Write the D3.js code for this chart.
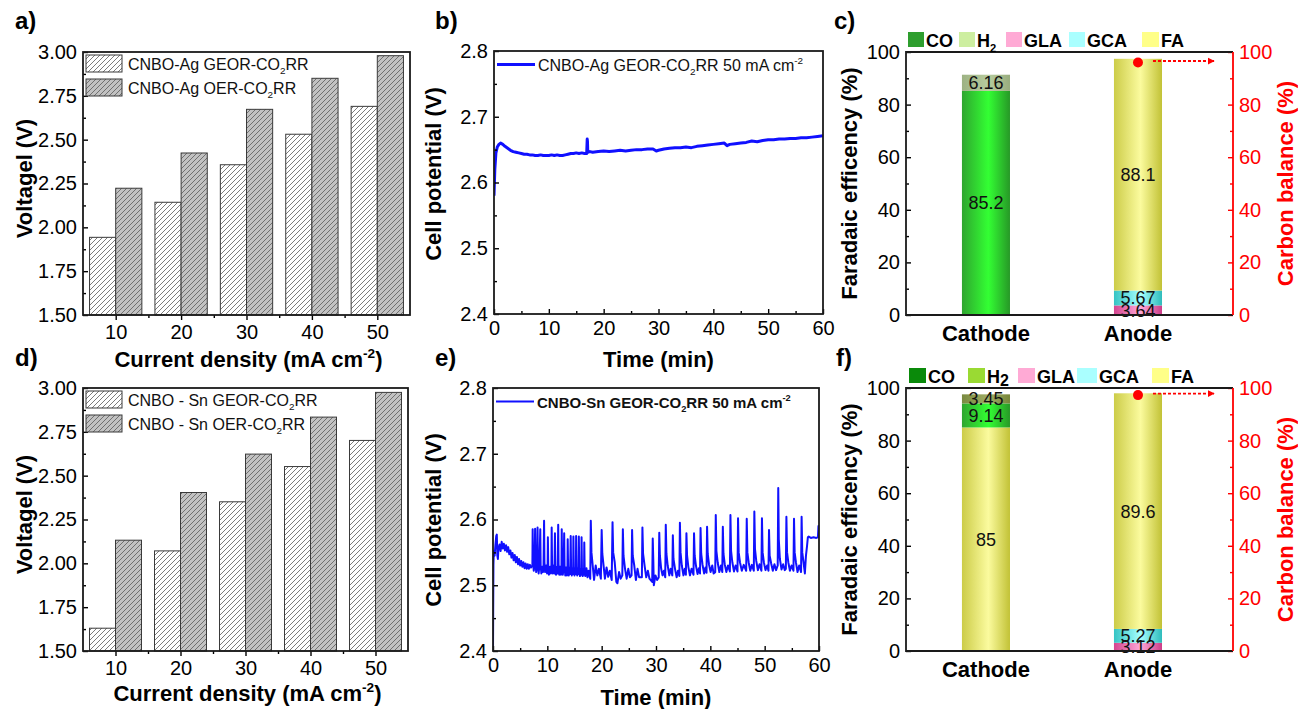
<!DOCTYPE html>
<html>
<head>
<meta charset="utf-8">
<script src="https://cdn.jsdelivr.net/npm/d3@7"></script>
<style>
  html, body { margin: 0; padding: 0; background: #fff; }
  svg { display: block; font-family: "Liberation Sans", Arial, Helvetica, sans-serif; }
</style>
</head>
<body>
<svg id="fig" width="1298" height="709"></svg>
<script>
// ---------- data ----------
const currentDensity = [10, 20, 30, 40, 50];
const agGeorVoltage = [1.943, 2.143, 2.357, 2.531, 2.690];
const agOerVoltage  = [2.223, 2.424, 2.673, 2.850, 2.979];
const snGeorVoltage = [1.630, 2.071, 2.351, 2.552, 2.701];
const snOerVoltage  = [2.132, 2.404, 2.623, 2.834, 2.975];

const voltTicks = [1.50, 1.75, 2.00, 2.25, 2.50, 2.75, 3.00];
const voltMinor = [1.625, 1.875, 2.125, 2.375, 2.625, 2.875];
const currentMinor = [15, 25, 35, 45];

const timeTicks = [0, 10, 20, 30, 40, 50, 60];
const timeMinor = [5, 15, 25, 35, 45, 55];
const cellTicks = [2.4, 2.5, 2.6, 2.7, 2.8];
const cellMinor = [2.45, 2.55, 2.65, 2.75];

// CNBO-Ag chronopotentiometry at 50 mA cm-2: [time (min), cell potential (V)]
const agTrace = [
  [0,2.580],[0.15,2.620],[0.35,2.645],[0.6,2.654],[0.9,2.658],[1.2,2.660],[1.6,2.658],[2.0,2.655],
  [2.5,2.652],[3.0,2.649],[3.5,2.647],[4.0,2.646],[4.5,2.645],[5.0,2.644],[5.5,2.643],[6.0,2.643],
  [6.5,2.642],[7.0,2.642],[7.5,2.641],[8.0,2.641],[8.5,2.642],[9.0,2.641],[9.5,2.641],[10,2.641],
  [10.5,2.642],[11,2.641],[11.5,2.642],[12,2.641],[12.5,2.641],[13,2.642],[13.5,2.643],[14,2.644],
  [14.5,2.644],[15,2.645],[15.5,2.644],[16,2.645],[16.5,2.644],[16.9,2.644],[17.0,2.666],[17.05,2.662],
  [17.1,2.646],[17.5,2.647],[18,2.646],[19,2.647],[20,2.648],[21,2.647],[22,2.648],[23,2.649],
  [24,2.648],[25,2.649],[26,2.650],[27,2.650],[28,2.651],[29,2.651],[29.6,2.648],[30,2.649],
  [31,2.651],[32,2.652],[33,2.653],[34,2.653],[35,2.654],[36,2.653],[37,2.655],[38,2.656],
  [39,2.657],[40,2.658],[41,2.659],[42,2.660],[42.5,2.656],[43,2.658],[44,2.659],[45,2.660],
  [46,2.661],[47,2.663],[48,2.662],[49,2.664],[50,2.665],[51,2.665],[52,2.666],[53,2.666],
  [54,2.667],[55,2.667],[56,2.668],[57,2.668],[58,2.669],[59,2.670],[60,2.671]
];

// CNBO-Sn chronopotentiometry at 50 mA cm-2: [time (min), cell potential (V)]
const snTrace = [
  [0,2.400],[0.04,2.470],[0.08,2.530],[0.15,2.552],[0.3,2.545],[0.45,2.562],[0.6,2.575],[0.7,2.577],
  [0.8,2.545],[0.9,2.540],[1.0,2.556],[1.2,2.562],[1.4,2.552],[1.6,2.566],[1.8,2.556],[2.0,2.563],
  [2.2,2.553],[2.4,2.561],[2.6,2.551],[2.8,2.558],[3.0,2.547],[3.2,2.553],[3.4,2.542],[3.6,2.549],
  [3.8,2.538],[4.0,2.546],[4.2,2.535],[4.4,2.543],[4.6,2.532],[4.8,2.540],[5.0,2.530],[5.2,2.537],
  [5.4,2.528],[5.6,2.535],[5.8,2.526],[6.0,2.533],[6.2,2.525],[6.4,2.532],[6.6,2.525],[6.8,2.531],
  [7.0,2.527],[7.25,2.530],
  [7.3,2.585],[7.37,2.535],[7.5,2.522],[7.65,2.532],
  [7.75,2.586],[7.82,2.535],[7.95,2.520],[8.1,2.530],
  [8.2,2.588],[8.27,2.532],[8.4,2.518],[8.55,2.530],
  [8.7,2.585],[8.77,2.530],[8.9,2.518],[9.05,2.528],[9.2,2.520],[9.3,2.528],
  [9.4,2.598],[9.47,2.535],[9.6,2.520],[9.8,2.530],[9.95,2.518],[10.05,2.527],
  [10.1,2.573],[10.17,2.530],[10.3,2.516],[10.5,2.528],[10.65,2.518],[10.75,2.527],
  [10.8,2.588],[10.87,2.532],[11.0,2.518],[11.15,2.530],[11.3,2.518],
  [11.4,2.579],[11.47,2.530],[11.6,2.516],[11.75,2.528],[11.9,2.518],
  [12.0,2.592],[12.07,2.532],[12.2,2.516],[12.35,2.528],[12.5,2.516],[12.6,2.526],
  [12.65,2.585],[12.72,2.530],[12.85,2.516],[13.0,2.526],
  [13.1,2.579],[13.17,2.530],[13.3,2.515],[13.45,2.527],[13.6,2.515],[13.7,2.525],
  [13.75,2.570],[13.82,2.528],[13.95,2.515],[14.1,2.527],[14.2,2.517],
  [14.3,2.575],[14.37,2.528],[14.5,2.515],[14.65,2.526],[14.75,2.517],
  [14.8,2.574],[14.87,2.528],[15.0,2.515],[15.15,2.526],[15.25,2.517],
  [15.3,2.575],[15.37,2.528],[15.5,2.515],[15.65,2.526],[15.75,2.517],
  [15.8,2.574],[15.87,2.527],[16.0,2.514],[16.15,2.525],[16.25,2.516],
  [16.3,2.573],[16.37,2.527],[16.5,2.514],[16.65,2.525],[16.75,2.516],
  [16.8,2.565],[16.87,2.525],[17.0,2.514],[17.2,2.526],[17.4,2.512],[17.6,2.522],[17.9,2.510],
  [18.0,2.598],[18.12,2.550],[18.35,2.530],[18.6,2.508],[18.9,2.530],[19.2,2.515],[19.5,2.525],[19.85,2.510],
  [20.0,2.584],[20.12,2.548],[20.35,2.530],[20.6,2.510],[20.9,2.527],[21.2,2.513],[21.5,2.522],[21.85,2.508],
  [22.0,2.596],[22.12,2.550],[22.4,2.535],[22.7,2.505],[22.9,2.503],[23.2,2.520],[23.5,2.510],[23.8,2.515],
  [23.9,2.585],[24.02,2.545],[24.3,2.525],[24.6,2.510],[24.9,2.525],[25.2,2.512],[25.5,2.515],
  [25.6,2.584],[25.72,2.545],[26.0,2.530],[26.3,2.508],[26.6,2.525],[26.9,2.512],[27.4,2.512],
  [27.5,2.588],[27.62,2.548],[27.9,2.530],[28.2,2.512],[28.5,2.522],[28.8,2.510],[29.3,2.505],
  [29.4,2.571],[29.5,2.540],[29.6,2.500],[29.9,2.515],[30.2,2.508],[30.5,2.512],
  [30.6,2.580],[30.72,2.545],[30.95,2.525],[31.2,2.515],[31.45,2.522],[31.7,2.512],
  [31.8,2.592],[31.92,2.548],[32.15,2.530],[32.45,2.515],[32.7,2.525],[33.0,2.515],
  [33.1,2.576],[33.22,2.540],[33.5,2.525],[33.8,2.512],[34.05,2.522],[34.3,2.514],
  [34.4,2.595],[34.52,2.550],[34.75,2.530],[35.05,2.515],[35.3,2.525],[35.5,2.516],
  [35.6,2.579],[35.72,2.545],[35.95,2.528],[36.25,2.515],[36.55,2.525],[36.9,2.516],
  [37.0,2.579],[37.12,2.545],[37.35,2.530],[37.65,2.517],[37.9,2.526],[38.1,2.518],
  [38.2,2.587],[38.32,2.548],[38.55,2.532],[38.85,2.518],[39.1,2.527],[39.3,2.519],
  [39.4,2.589],[39.52,2.548],[39.75,2.532],[40.05,2.520],[40.35,2.530],[40.6,2.518],[40.9,2.520],
  [41.0,2.607],[41.12,2.552],[41.35,2.535],[41.65,2.520],[41.95,2.530],[42.2,2.520],
  [42.3,2.589],[42.42,2.548],[42.65,2.532],[42.95,2.520],[43.25,2.530],[43.6,2.521],
  [43.7,2.607],[43.82,2.552],[44.05,2.535],[44.35,2.521],[44.65,2.530],[45.0,2.521],
  [45.1,2.602],[45.22,2.550],[45.45,2.535],[45.8,2.522],[46.15,2.531],[46.6,2.522],
  [46.7,2.601],[46.82,2.550],[47.05,2.535],[47.35,2.522],[47.65,2.531],[48.0,2.522],
  [48.1,2.612],[48.22,2.555],[48.45,2.537],[48.75,2.523],[49.05,2.532],[49.4,2.522],
  [49.5,2.602],[49.62,2.550],[49.85,2.535],[50.15,2.523],[50.45,2.530],[50.7,2.522],
  [50.8,2.584],[50.92,2.545],[51.2,2.533],[51.5,2.522],[51.8,2.532],[52.1,2.523],[52.4,2.530],
  [52.5,2.648],[52.6,2.570],[52.8,2.540],[53.1,2.524],[53.4,2.532],[53.7,2.523],[53.9,2.525],
  [54.0,2.604],[54.12,2.550],[54.35,2.535],[54.65,2.522],[54.95,2.530],[55.3,2.522],
  [55.4,2.601],[55.52,2.550],[55.75,2.535],[56.05,2.520],[56.35,2.530],[56.7,2.520],
  [56.8,2.604],[56.92,2.550],[57.15,2.535],[57.4,2.518],[57.6,2.545],[57.8,2.560],
  [57.95,2.573],[58.1,2.574],[58.5,2.572],[59.0,2.573],[59.5,2.572],[59.8,2.573],[59.9,2.590],[60.0,2.585]
];

// Faradaic efficiency stacks (bottom to top), [product, FE %]
const electrodes = ["Cathode", "Anode"];
const agCathodeFE = [["CO", 85.2], ["H2", 6.16]];
const agAnodeFE   = [["GLA", 3.64], ["GCA", 5.67], ["FA", 88.1]];
const snCathodeFE = [["FA", 85], ["CO", 9.14], ["H2", 3.45]];
const snAnodeFE   = [["GLA", 3.12], ["GCA", 5.27], ["FA", 89.6]];
const feTicks = [0, 20, 40, 60, 80, 100];
const feMinor = [10, 30, 50, 70, 90];
const agCarbonBalance = 96.0;
const snCarbonBalance = 97.3;
const products = ["CO", "H2", "GLA", "GCA", "FA"];

// ---------- setup ----------
const FONT = '"Liberation Sans", Arial, Helvetica, sans-serif';
const TICK_FS = 20, TITLE_FS = 22;
const svg = d3.select("#fig");
const defs = svg.append("defs");

function hatch(id, bg) {
  const p = defs.append("pattern").attr("id", id)
    .attr("patternUnits", "userSpaceOnUse").attr("width", 5).attr("height", 5);
  p.append("rect").attr("width", 5).attr("height", 5).attr("fill", bg);
  p.append("path").attr("d", "M0,5 L5,0 M-1,1 L1,-1 M4,6 L6,4")
    .attr("stroke", "#5a5a5a").attr("stroke-width", 0.8);
}
hatch("hatchWhite", "#ffffff");
hatch("hatchGray", "#c2c2c2");

function grad(id, edgeL, mid, edgeR) {
  const g = defs.append("linearGradient").attr("id", id)
    .attr("x1", 0).attr("x2", 1).attr("y1", 0).attr("y2", 0);
  g.append("stop").attr("offset", "0%").attr("stop-color", edgeL);
  g.append("stop").attr("offset", "55%").attr("stop-color", mid);
  g.append("stop").attr("offset", "100%").attr("stop-color", edgeR);
}
grad("gCO", "#2fa52f", "#33ff33", "#279827");
grad("gH2c", "#9db283", "#b8cc9e", "#98ad7e");
grad("gH2f", "#7a8a40", "#a0ad66", "#758539");
grad("gGLA", "#d4458f", "#ffa8d8", "#cc3d88");
grad("gGCA", "#35c4c4", "#a6ffff", "#2fbcbc");
grad("gFA", "#cccc48", "#fbfb9e", "#c2c236");

defs.append("marker").attr("id", "arrowRed")
  .attr("viewBox", "0 0 10 10").attr("refX", 9).attr("refY", 5)
  .attr("markerWidth", 4).attr("markerHeight", 4).attr("orient", "auto")
  .attr("markerUnits", "strokeWidth")
  .append("path").attr("d", "M0,0 L10,5 L0,10 Z").attr("fill", "#ff0000");

// text with sub/superscript parts: [[text, "sub"|"sup"|undefined], ...]
function rich(sel, parts, fs) {
  let shift = 0;
  parts.forEach(p => {
    const ts = sel.append("tspan").text(p[0]);
    let target = 0;
    if (p[1] === "sub") { ts.attr("font-size", fs * 0.62); target = fs * 0.28; }
    else if (p[1] === "sup") { ts.attr("font-size", fs * 0.62); target = -fs * 0.42; }
    const dy = target - shift;
    if (dy !== 0) ts.attr("dy", dy);
    shift = target;
  });
  return sel;
}

function styleAxis(a, color, fs) {
  a.select(".domain").remove();
  a.selectAll("line").attr("stroke", color).attr("stroke-width", 1.4);
  a.selectAll("text").attr("font-size", fs).attr("font-family", FONT).attr("fill", color);
}

function yAxisLeft(g, y, box, major, minor, fmt, color = "#000") {
  styleAxis(g.append("g").attr("transform", `translate(${box.l},0)`)
    .call(d3.axisLeft(y).tickValues(major).tickSize(-5).tickPadding(6).tickFormat(fmt)), color, TICK_FS);
  styleAxis(g.append("g").attr("transform", `translate(${box.l},0)`)
    .call(d3.axisLeft(y).tickValues(minor).tickSize(-3).tickFormat("")), color, TICK_FS);
}

function yAxisRight(g, y, box, major, minor, fmt, color) {
  styleAxis(g.append("g").attr("transform", `translate(${box.r},0)`)
    .call(d3.axisRight(y).tickValues(major).tickSize(-5).tickPadding(6).tickFormat(fmt)), color, TICK_FS);
  styleAxis(g.append("g").attr("transform", `translate(${box.r},0)`)
    .call(d3.axisRight(y).tickValues(minor).tickSize(-3).tickFormat("")), color, TICK_FS);
}

function xAxisBottom(g, x, box, major, minor, fmt, majorSize, minorSize, pad) {
  styleAxis(g.append("g").attr("transform", `translate(0,${box.b})`)
    .call(d3.axisBottom(x).tickValues(major).tickSize(majorSize).tickPadding(pad).tickFormat(fmt)), "#000", TICK_FS);
  styleAxis(g.append("g").attr("transform", `translate(0,${box.b})`)
    .call(d3.axisBottom(x).tickValues(minor).tickSize(minorSize).tickFormat("")), "#000", TICK_FS);
}

function frame(g, box) {
  g.append("rect").attr("x", box.l).attr("y", box.t)
    .attr("width", box.r - box.l).attr("height", box.b - box.t)
    .attr("fill", "none").attr("stroke", "#1a1a1a").attr("stroke-width", 1.8);
}

function yTitle(g, x, y, parts, color = "#000") {
  rich(g.append("text").attr("transform", `translate(${x},${y}) rotate(-90)`)
    .attr("text-anchor", "middle").attr("dy", "0.36em")
    .attr("font-size", TITLE_FS).attr("font-weight", "bold").attr("fill", color), parts, TITLE_FS);
}

function xTitle(g, x, y, parts) {
  rich(g.append("text").attr("x", x).attr("y", y).attr("text-anchor", "middle")
    .attr("font-size", TITLE_FS).attr("font-weight", "bold").attr("fill", "#000"), parts, TITLE_FS);
}

function panelLetter(x, y, s) {
  svg.append("text").attr("x", x).attr("y", y).attr("font-size", 24)
    .attr("font-weight", "bold").attr("fill", "#000").text(s);
}

// ---------- panels a / d : cell voltage bars ----------
function voltagePanel(box, geor, oer, legendParts, titleY) {
  const g = svg.append("g");
  const x = d3.scaleLinear().domain([5, 55]).range([box.l, box.r]);
  const y = d3.scaleLinear().domain([1.5, 3.0]).range([box.b, box.t]);
  const bw = x(4) - x(0);

  g.selectAll(".geor").data(currentDensity).join("rect")
    .attr("x", d => x(d) - bw).attr("width", bw)
    .attr("y", (d, i) => y(geor[i])).attr("height", (d, i) => box.b - y(geor[i]))
    .attr("fill", "url(#hatchWhite)").attr("stroke", "#3a3a3a").attr("stroke-width", 1);
  g.selectAll(".oer").data(currentDensity).join("rect")
    .attr("x", d => x(d)).attr("width", bw)
    .attr("y", (d, i) => y(oer[i])).attr("height", (d, i) => box.b - y(oer[i]))
    .attr("fill", "url(#hatchGray)").attr("stroke", "#3a3a3a").attr("stroke-width", 1);

  yAxisLeft(g, y, box, voltTicks, voltMinor, d3.format(".2f"));
  xAxisBottom(g, x, box, currentDensity, currentMinor, d3.format("d"), 5, 3, 5);
  frame(g, box);

  // legend
  const fills = ["url(#hatchWhite)", "url(#hatchGray)"];
  legendParts.forEach((parts, i) => {
    const yy = box.t + 3 + i * 24;
    g.append("rect").attr("x", box.l + 3).attr("y", yy).attr("width", 36).attr("height", 17)
      .attr("fill", fills[i]).attr("stroke", "#3a3a3a").attr("stroke-width", 1);
    rich(g.append("text").attr("x", box.l + 45).attr("y", yy + 15)
      .attr("font-size", 16).attr("fill", "#111"), parts, 16);
  });

  yTitle(g, 24, (box.t + box.b) / 2 - 5, [["Voltagel (V)"]]);
  xTitle(g, (box.l + box.r) / 2 + 2, titleY, [["Current density (mA cm"], ["-2", "sup"], [")"]]);
}

voltagePanel({ l: 83, r: 410, t: 52, b: 315 }, agGeorVoltage, agOerVoltage,
  [[["CNBO-Ag GEOR-CO"], ["2", "sub"], ["RR"]], [["CNBO-Ag OER-CO"], ["2", "sub"], ["RR"]]], 367);
voltagePanel({ l: 83, r: 408, t: 388, b: 651 }, snGeorVoltage, snOerVoltage,
  [[["CNBO - Sn GEOR-CO"], ["2", "sub"], ["RR"]], [["CNBO - Sn OER-CO"], ["2", "sub"], ["RR"]]], 701);

// ---------- panels b / e : chronopotentiometry ----------
let clipN = 0;
function tracePanel(box, data, lineW, legendW, legendParts, legendBold, legendFs, titleY, yTitleY) {
  const g = svg.append("g");
  const x = d3.scaleLinear().domain([0, 60]).range([box.l, box.r]);
  const y = d3.scaleLinear().domain([2.4, 2.8]).range([box.b, box.t]);
  const cid = "clip" + (clipN++);
  defs.append("clipPath").attr("id", cid).append("rect")
    .attr("x", box.l).attr("y", box.t).attr("width", box.r - box.l).attr("height", box.b - box.t);

  g.append("path").datum(data).attr("clip-path", `url(#${cid})`)
    .attr("d", d3.line().x(d => x(d[0])).y(d => y(d[1])))
    .attr("fill", "none").attr("stroke", "#1010ff").attr("stroke-width", lineW)
    .attr("stroke-linejoin", "round");

  yAxisLeft(g, y, box, cellTicks, cellMinor, d3.format(".1f"));
  xAxisBottom(g, x, box, timeTicks, timeMinor, d3.format("d"), -5, -3, 7);
  frame(g, box);

  // legend
  const ly = box.t + 13.5;
  g.append("line").attr("x1", box.l + 3).attr("x2", box.l + 41).attr("y1", ly).attr("y2", ly)
    .attr("stroke", "#1010ff").attr("stroke-width", legendW);
  rich(g.append("text").attr("x", box.l + 44).attr("y", ly + 6)
    .attr("font-size", legendFs).attr("font-weight", legendBold ? "bold" : "normal")
    .attr("fill", "#111"), legendParts, legendFs);

  yTitle(g, 433, yTitleY, [["Cell potential (V)"]]);
  xTitle(g, (box.l + box.r) / 2, titleY, [["Time (min)"]]);
}

tracePanel({ l: 494, r: 823, t: 51, b: 314 }, agTrace, 3, 3,
  [["CNBO-Ag GEOR-CO"], ["2", "sub"], ["RR 50 mA cm"], ["-2", "sup"]], false, 16, 367, 174);
tracePanel({ l: 493, r: 819, t: 388, b: 651 }, snTrace, 2, 2,
  [["CNBO-Sn GEOR-CO"], ["2", "sub"], ["RR 50 mA cm"], ["-2", "sup"]], true, 15, 705, 520);

// ---------- panels c / f : Faradaic efficiency ----------
const segFill = { CO: "url(#gCO)", GLA: "url(#gGLA)", GCA: "url(#gGCA)", FA: "url(#gFA)" };

function fePanel(box, stacks, cb, h2Fill, legendColors, legendX, legendW, h2Big) {
  const g = svg.append("g");
  const x = d3.scaleLinear().domain([-0.526, 1.625]).range([box.l, box.r]);
  const y = d3.scaleLinear().domain([0, 100]).range([box.b, box.t]);
  const yR = d3.scaleLinear().domain([0, 100]).range([box.b, box.t]);
  const half = 0.158;

  stacks.forEach((stack, i) => {
    let base = 0;
    const segs = stack.map(([name, v]) => { const s = { name, v, y0: base, y1: base + v }; base += v; return s; });
    g.selectAll(null).data(segs).join("rect")
      .attr("x", x(i - half)).attr("width", x(i + half) - x(i - half))
      .attr("y", d => y(d.y1)).attr("height", d => y(d.y0) - y(d.y1))
      .attr("fill", d => d.name === "H2" ? h2Fill : segFill[d.name]);
    g.selectAll(null).data(segs).join("text")
      .attr("x", x(i)).attr("y", d => y((d.y0 + d.y1) / 2)).attr("dy", "0.36em")
      .attr("text-anchor", "middle").attr("font-size", 18).attr("fill", "#111")
      .text(d => d.v);
  });

  // carbon balance marker on the anode bar, pointing to the right axis
  const cy = yR(cb);
  g.append("line").attr("x1", x(1) + 15).attr("x2", box.r - 19).attr("y1", cy - 1.5).attr("y2", cy - 1.5)
    .attr("stroke", "#ff0000").attr("stroke-width", 1.8).attr("stroke-dasharray", "3,2")
    .attr("marker-end", "url(#arrowRed)");
  g.append("circle").attr("cx", x(1)).attr("cy", cy).attr("r", 5).attr("fill", "#ff0000");

  yAxisLeft(g, y, box, feTicks, feMinor, d3.format("d"));
  yAxisRight(g, yR, box, feTicks, feMinor, d3.format("d"), "#ff0000");
  g.append("path").attr("d", `M${box.r},${box.t} L${box.l},${box.t} L${box.l},${box.b} L${box.r},${box.b}`)
    .attr("fill", "none").attr("stroke", "#1a1a1a").attr("stroke-width", 1.8);
  g.append("line").attr("x1", box.r).attr("x2", box.r).attr("y1", box.t).attr("y2", box.b)
    .attr("stroke", "#ff0000").attr("stroke-width", 1.8);

  electrodes.forEach((e, i) => {
    g.append("text").attr("x", x(i)).attr("y", box.b + 26).attr("text-anchor", "middle")
      .attr("font-size", TITLE_FS).attr("font-weight", "bold").attr("fill", "#000").text(e);
  });

  // legend above the frame
  products.forEach((p, i) => {
    const lx = box.l + legendX[i];
    g.append("rect").attr("x", lx).attr("y", box.t - 20).attr("width", legendW[i]).attr("height", 15)
      .attr("fill", legendColors[i]);
    const t = g.append("text").attr("x", lx + legendW[i] + 2).attr("y", box.t - 5)
      .attr("font-size", 18).attr("font-weight", "bold").attr("fill", "#000");
    if (p === "H2") {
      if (h2Big) { t.append("tspan").text("H"); t.append("tspan").attr("font-size", 16).attr("dy", 3).text("2"); }
      else rich(t, [["H"], ["2", "sub"]], 18);
    } else t.text(p);
  });

  yTitle(g, 849, (box.t + box.b) / 2, [["Faradaic efficency (%)"]]);
  yTitle(g, 1285, (box.t + box.b) / 2, [["Carbon balance (%)"]], "#ff0000");
}

fePanel({ l: 906, r: 1233, t: 52, b: 315 }, [agCathodeFE, agAnodeFE], agCarbonBalance, "url(#gH2c)",
  ["#2e9e2e", "#cdeea0", "#ffaad5", "#aaffff", "#ffff88"], [2, 53, 100, 163, 236],
  [16, 16, 16, 16, 17], false);
fePanel({ l: 906, r: 1233, t: 388, b: 651 }, [snCathodeFE, snAnodeFE], snCarbonBalance, "url(#gH2f)",
  ["#0a8a0a", "#9ada33", "#ffaad5", "#aaffff", "#ffff88"], [3, 62, 112, 171, 246],
  [17, 17, 17, 20, 17], true);

// ---------- panel letters ----------
panelLetter(15, 29, "a)");
panelLetter(435, 29, "b)");
panelLetter(834, 29, "c)");
panelLetter(15, 366, "d)");
panelLetter(435, 366, "e)");
panelLetter(836, 366, "f)");
</script>
</body>
</html>
